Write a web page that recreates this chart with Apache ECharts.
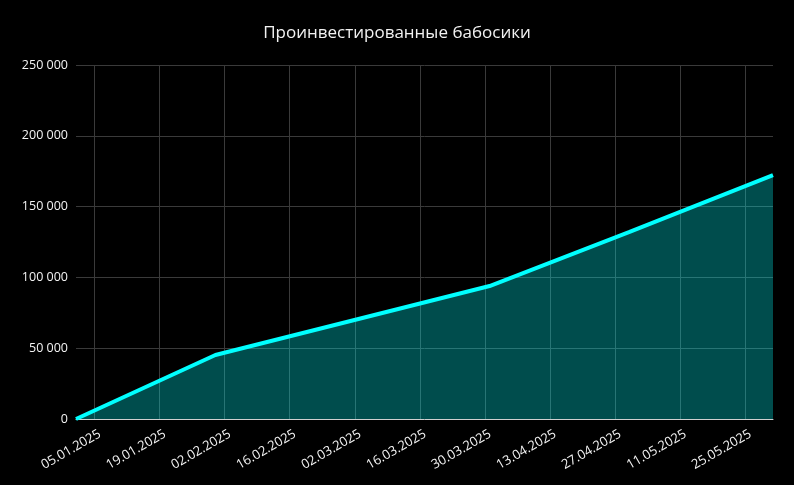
<!DOCTYPE html>
<html>
<head>
<meta charset="utf-8">
<script src="https://cdn.jsdelivr.net/npm/echarts@6/dist/echarts.min.js"></script>
<style>
html,body{margin:0;padding:0;background:#000;}
#chart{width:794px;height:485px;}
</style>
</head>
<body>
<div id="chart"></div>
<script>
// ---- data ----
const chartTitle = 'Проинвестированные бабосики';
const pointDates = ['01.01.2025', '31.01.2025', '28.02.2025', '31.03.2025', '30.04.2025', '31.05.2025'];
const pointValues = [0, 45200, 68300, 93900, 132000, 172300];
const tickLabels = ['05.01.2025', '19.01.2025', '02.02.2025', '16.02.2025', '02.03.2025', '16.03.2025',
  '30.03.2025', '13.04.2025', '27.04.2025', '11.05.2025', '25.05.2025'];
const yTicks = [0, 50000, 100000, 150000, 200000, 250000];

// daily categories for the axis (first to last data date)
function pad(n){ return n < 10 ? '0' + n : '' + n; }
function parseD(s){ const p = s.split('.'); return new Date(Date.UTC(+p[2], +p[1]-1, +p[0])); }
function fmt(d){ return pad(d.getUTCDate()) + '.' + pad(d.getUTCMonth()+1) + '.' + d.getUTCFullYear(); }
const categories = [];
for (let d = parseD(pointDates[0]); d <= parseD(pointDates[pointDates.length-1]); d = new Date(d.getTime() + 86400000)) {
  categories.push(fmt(d));
}
const tickSet = new Set(tickLabels);
const isTick = (idx) => tickSet.has(categories[idx]);

const chart = echarts.init(document.getElementById('chart'));
chart.setOption({
  backgroundColor: '#000000',
  animation: false,
  textStyle: { fontFamily: 'Open Sans' },
  title: {
    text: chartTitle,
    left: 'center',
    top: 20,
    textStyle: { color: '#f2f2f2', fontSize: 17, fontWeight: 'normal', fontFamily: 'Open Sans' }
  },
  grid: { left: 76, right: 21, top: 65, bottom: 66, containLabel: false },
  xAxis: {
    type: 'category',
    data: categories,
    boundaryGap: false,
    axisLine: { show: true, lineStyle: { color: '#d0d0d0', width: 1 } },
    axisTick: { show: false },
    axisLabel: {
      interval: (idx) => isTick(idx),
      rotate: 30,
      color: '#f4f4f4',
      fontSize: 13,
      margin: 17,
      padding: [0, -6, 0, 0],
      fontFamily: 'Open Sans'
    },
    splitLine: {
      show: true,
      interval: (idx) => isTick(idx),
      lineStyle: { color: '#3a3a3a', width: 1 }
    }
  },
  yAxis: {
    type: 'value',
    min: yTicks[0],
    max: yTicks[yTicks.length-1],
    interval: yTicks[1] - yTicks[0],
    axisLine: { show: false },
    axisTick: { show: false },
    axisLabel: {
      color: '#f4f4f4',
      fontSize: 12.5,
      margin: 8,
      fontFamily: 'Open Sans',
      formatter: (v) => String(v).replace(/\B(?=(\d{3})+(?!\d))/g, ' ')
    },
    splitLine: { show: true, lineStyle: { color: '#3a3a3a', width: 1 } }
  },
  series: [{
    type: 'line',
    data: pointDates.map((d, i) => [d, pointValues[i]]),
    showSymbol: false,
    symbol: 'none',
    lineStyle: { color: '#00ffff', width: 4 },
    itemStyle: { color: '#00ffff' },
    areaStyle: { color: 'rgba(0,255,255,0.3)', opacity: 1 },
    z: 3
  }]
});
</script>
</body>
</html>
